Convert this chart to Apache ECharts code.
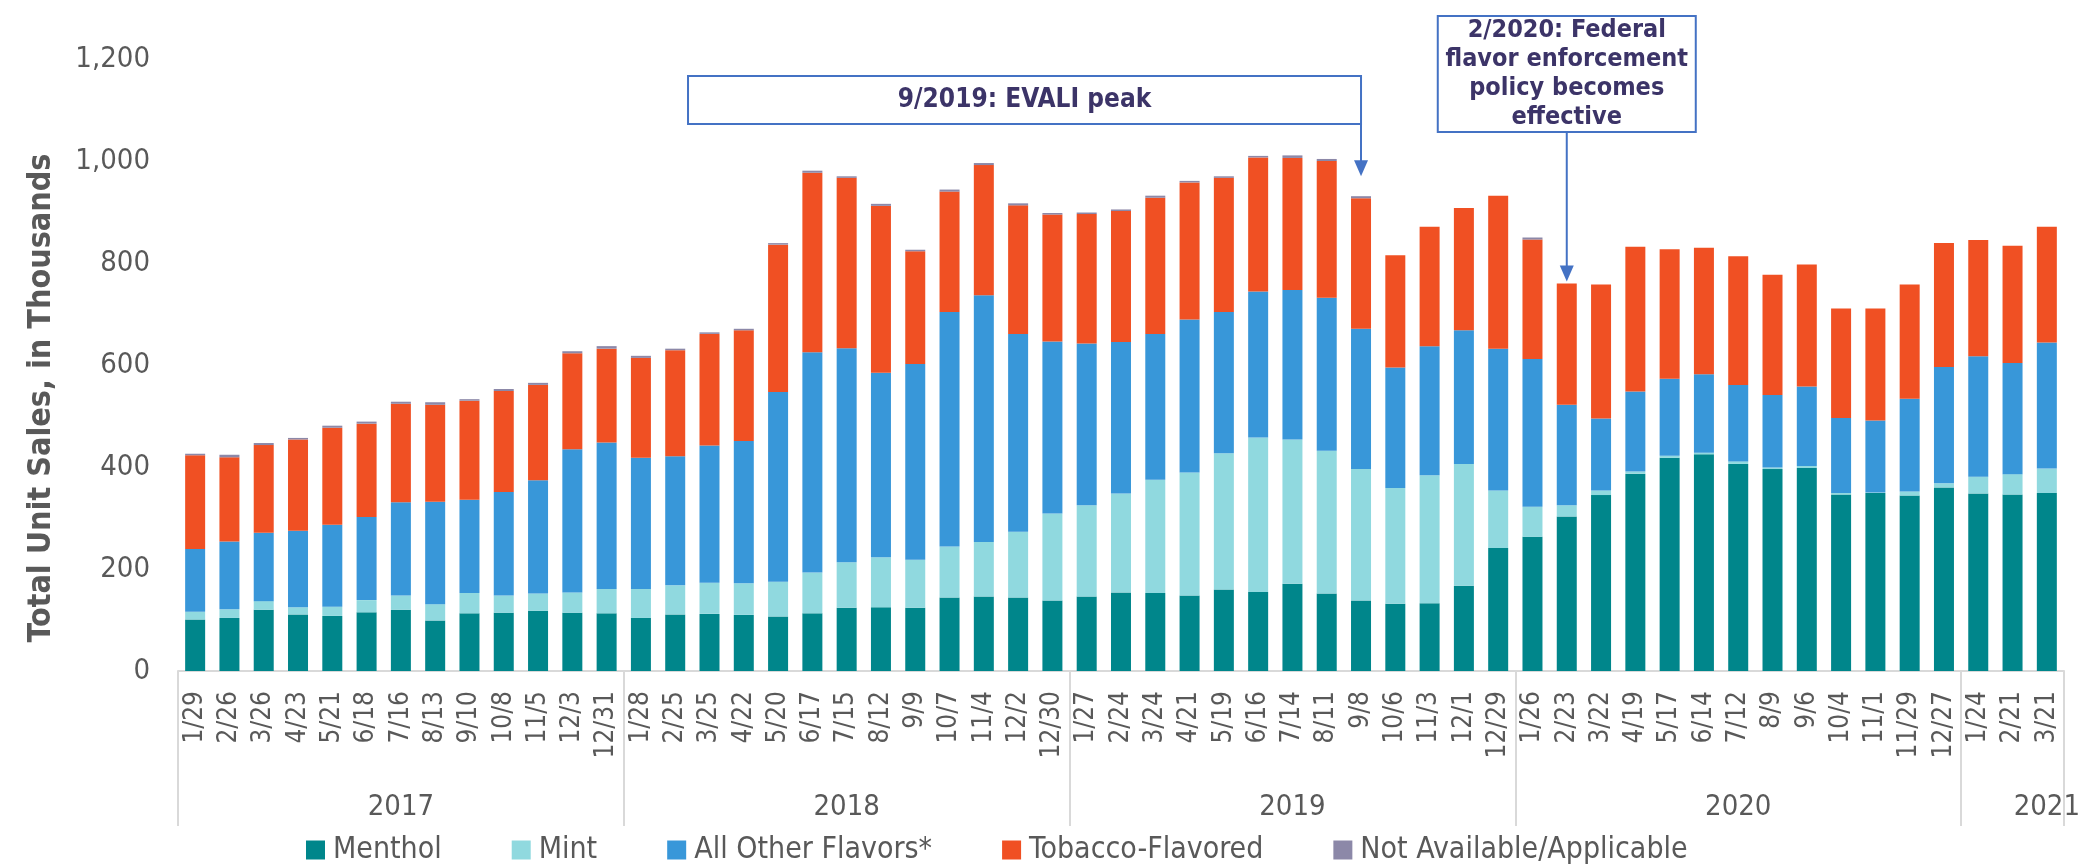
<!DOCTYPE html>
<html>
<head>
<meta charset="utf-8">
<title>E-cigarette unit sales by flavor</title>
<style>
html,body{margin:0;padding:0;background:#fff;}
#main{width:2083px;height:865px;}
</style>
</head>
<body>
<div id="main"></div>
<script src="https://cdn.jsdelivr.net/npm/echarts@6/dist/echarts.min.js"></script>
<script>
// 4-week periods, grouped by year
var categories = [
  '1/29','2/26','3/26','4/23','5/21','6/18','7/16','8/13','9/10','10/8','11/5','12/3','12/31',
  '1/28','2/25','3/25','4/22','5/20','6/17','7/15','8/12','9/9','10/7','11/4','12/2','12/30',
  '1/27','2/24','3/24','4/21','5/19','6/16','7/14','8/11','9/8','10/6','11/3','12/1','12/29',
  '1/26','2/23','3/22','4/19','5/17','6/14','7/12','8/9','9/6','10/4','11/1','11/29','12/27',
  '1/24','2/21','3/21'
];
var years = ['2017','2018','2019','2020','2021'];
var yearStart = [0, 13, 26, 39, 52];   // first category index of each year
var yearLabelAt = [6, 19, 32, 45, 54]; // where the year text sits

// unit sales, thousands
var menthol = [
  101,104,120,111,108,115,120,99,113,114,118,114,113,
  104,111,112,110,107,113,124,125,124,144,146,144,138,
  146,154,153,148,160,155,171,152,138,132,133,167,241,
  263,303,345,387,418,425,406,396,398,346,349,344,360,
  348,346,349
];
var mint = [
  15,17,17,14,18,24,28,32,40,34,34,40,48,
  57,57,61,62,68,80,89,98,94,100,107,129,171,
  179,194,222,241,267,303,283,280,258,227,251,239,113,
  59,22,9,4,4,3,5,3,4,3,1,8,8,
  33,40,48
];
var otherFlavors = [
  123,133,134,150,161,163,183,201,183,203,222,281,287,
  257,253,269,279,372,432,420,362,384,460,484,388,337,
  317,297,286,300,277,286,293,300,275,236,253,262,278,
  290,197,141,157,151,154,150,142,156,147,141,182,228,
  236,218,247
];
var tobacco = [
  184,165,172,179,190,183,193,190,194,198,187,188,184,
  196,208,219,217,289,352,334,327,221,236,255,252,249,
  254,257,267,269,263,263,259,268,256,220,234,240,300,
  234,238,263,284,254,248,252,236,239,215,220,224,243,
  228,230,227
];
var notAvail = [
  3,5,4,3,4,4,4,5,3,4,4,4,5,
  4,3,3,3,3,4,3,4,3,4,4,4,3,
  3,3,4,3,3,3,5,4,4,0,0,0,0,
  4,0,0,0,0,0,0,0,0,0,0,0,0,
  0,0,0
];

var FONT = '"DejaVu Sans Condensed", "DejaVu Sans", sans-serif';
var GREY = '#595959';

function bar(name, data, color) {
  return {
    name: name, type: 'bar', stack: 'total', data: data,
    barWidth: 20,
    itemStyle: {color: color},
    emphasis: {disabled: true}
  };
}

var myChart = echarts.init(document.getElementById('main'));

var option = {
  animation: false,
  textStyle: {fontFamily: FONT},
  grid: {left: 178, right: 16, top: 59, bottom: 194},
  legend: {
    top: 830, left: 301,
    itemWidth: 19, itemHeight: 19, itemGap: 70,
    icon: 'rect',
    textStyle: {fontSize: 30, color: GREY, fontFamily: FONT, padding: [0, 0, 0, 3]},
    data: ['Menthol', 'Mint', 'All Other Flavors*', 'Tobacco-Flavored', 'Not Available/Applicable']
  },
  xAxis: [{
    type: 'category',
    data: categories,
    axisLine: {lineStyle: {color: '#D9D9D9', width: 2}},
    axisTick: {
      show: true, length: 155,
      lineStyle: {color: '#D9D9D9', width: 2},
      interval: function (i) { return yearStart.indexOf(i) >= 0; }
    },
    axisLabel: {rotate: 90, fontSize: 26, color: GREY, margin: 20, interval: 0, fontFamily: FONT}
  }, {
    type: 'category',
    data: categories,
    position: 'bottom',
    offset: 118,
    axisLine: {show: false},
    axisTick: {show: false},
    axisLabel: {
      fontSize: 29, color: GREY, margin: 4, fontFamily: FONT,
      interval: function (i) { return yearLabelAt.indexOf(i) >= 0; },
      formatter: function (v, i) {
        var k = yearLabelAt.indexOf(i);
        return k >= 0 ? years[k] : '';
      }
    }
  }],
  yAxis: {
    type: 'value', min: 0, max: 1200, interval: 200,
    axisLine: {show: false}, axisTick: {show: false},
    splitLine: {show: false},
    axisLabel: {
      fontSize: 29, color: GREY, margin: 28, fontFamily: FONT,
      formatter: function (v) { return v.toLocaleString('en-US'); }
    },
    name: 'Total Unit Sales, in Thousands',
    nameLocation: 'middle', nameGap: 120,
    nameTextStyle: {fontSize: 32, fontWeight: 'bold', color: GREY, fontFamily: FONT, padding: [0, 66, 0, 0]}
  },
  series: [
    bar('Menthol', menthol, '#00868B'),
    bar('Mint', mint, '#90D9DF'),
    bar('All Other Flavors*', otherFlavors, '#3897D9'),
    bar('Tobacco-Flavored', tobacco, '#F05023'),
    bar('Not Available/Applicable', notAvail, '#8C88A8')
  ]
};
myChart.setOption(option);

// annotations anchored on the bars they point at
function total(i) { return menthol[i] + mint[i] + otherFlavors[i] + tobacco[i] + notAvail[i]; }
var iEvali = categories.indexOf('9/8', 26);
var iFed = categories.indexOf('2/23', 39);
var xE = myChart.convertToPixel({xAxisIndex: 0}, iEvali);
var xF = myChart.convertToPixel({xAxisIndex: 0}, iFed);
var tipE = myChart.convertToPixel({yAxisIndex: 0}, total(iEvali)) - 20;
var tipF = myChart.convertToPixel({yAxisIndex: 0}, total(iFed)) - 2;
var BLUE = '#4472C4', INK = '#3C3468';

function arrow(x, y0, y1) {
  return [
    {type: 'line', shape: {x1: x, y1: y0, x2: x, y2: y1 - 14}, style: {stroke: BLUE, lineWidth: 2}},
    {type: 'polygon', shape: {points: [[x - 7, y1 - 16], [x + 7, y1 - 16], [x, y1]]}, style: {fill: BLUE}}
  ];
}

var boxE = {x: xE - 673, y: 76, w: 673, h: 48};
var boxF = {x: xF - 129, y: 16, w: 258, h: 116};
var g = [
  {type: 'rect', shape: {x: boxE.x, y: boxE.y, width: boxE.w, height: boxE.h},
   style: {fill: '#fff', stroke: BLUE, lineWidth: 2}},
  {type: 'text', x: boxE.x + boxE.w / 2, y: boxE.y + boxE.h / 2,
   style: {text: '9/2019: EVALI peak', font: 'bold 26px ' + FONT, fill: INK, align: 'center', verticalAlign: 'middle'}},
  {type: 'rect', shape: {x: boxF.x, y: boxF.y, width: boxF.w, height: boxF.h},
   style: {fill: '#fff', stroke: BLUE, lineWidth: 2}},
  {type: 'text', x: xF, y: boxF.y + boxF.h / 2,
   style: {text: '2/2020: Federal\nflavor enforcement\npolicy becomes\neffective', font: 'bold 25px ' + FONT,
           lineHeight: 29, fill: INK, align: 'center', verticalAlign: 'middle'}}
].concat(arrow(xE, boxE.y + boxE.h, tipE)).concat(arrow(xF, boxF.y + boxF.h, tipF));

myChart.setOption({graphic: g});
</script>
</body>
</html>
